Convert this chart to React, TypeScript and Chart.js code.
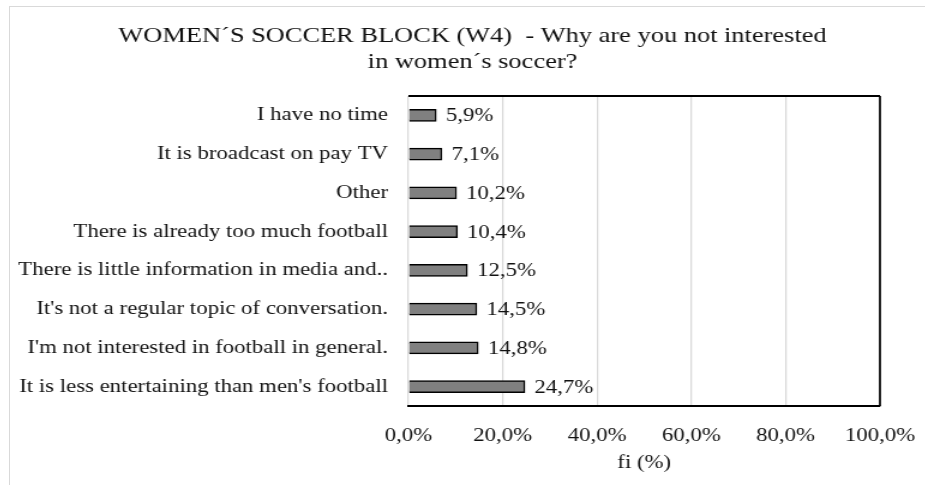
import React, { useEffect, useRef } from "react";
import { Chart, registerables } from "chart.js";

Chart.register(...registerables);

const titleLines = [
  "WOMEN´S SOCCER BLOCK (W4)  - Why are you not interested",
  "in women´s soccer?",
];
const categories = [
  "I have no time",
  "It is broadcast on pay TV",
  "Other",
  "There is already too much football",
  "There is little information in media and..",
  "It's not a regular topic of conversation.",
  "I'm not interested in football in general.",
  "It is less entertaining than men's football",
];
const values = [5.9, 7.1, 10.2, 10.4, 12.5, 14.5, 14.8, 24.7];
const xTickValues = [0, 20, 40, 60, 80, 100];
const xAxisTitle = "fi (%)";

const FONT = "'Liberation Serif', 'Times New Roman', serif";
const fmt = (v: number) => v.toFixed(1).replace(".", ",") + "%";

const W = 762;
const H = 478;
const SX = 1.2;

export default function App() {
  const ref = useRef<HTMLCanvasElement | null>(null);

  useEffect(() => {
    if (!ref.current) return;

    const frameAndLabels = {
      id: "frameAndLabels",
      afterDatasetsDraw(chart: any) {
        const { ctx, chartArea } = chart;
        ctx.save();
        ctx.strokeStyle = "#000";
        ctx.lineWidth = 2;
        ctx.beginPath();
        ctx.moveTo(chartArea.left, chartArea.top);
        ctx.lineTo(chartArea.right, chartArea.top);
        ctx.stroke();
        ctx.lineWidth = 1.7;
        ctx.beginPath();
        ctx.moveTo(chartArea.right, chartArea.top);
        ctx.lineTo(chartArea.right, chartArea.bottom);
        ctx.stroke();
        const meta = chart.getDatasetMeta(0);
        ctx.fillStyle = "#111";
        ctx.font = `19px ${FONT}`;
        ctx.textAlign = "left";
        ctx.textBaseline = "middle";
        meta.data.forEach((bar: any, i: number) => {
          ctx.fillText(fmt(values[i]), bar.x + 8, bar.y + 1);
        });
        ctx.restore();
      },
      afterDraw(chart: any) {
        const { ctx } = chart;
        ctx.save();
        ctx.fillStyle = "#111";
        ctx.font = `22px ${FONT}`;
        ctx.textAlign = "center";
        ctx.textBaseline = "alphabetic";
        const cx = 385.4;
        ctx.fillText(titleLines[0], cx, 34.7);
        ctx.fillText(titleLines[1], cx, 60.7);
        ctx.restore();
      },
    };

    const chart = new Chart(ref.current, {
      type: "bar",
      data: {
        labels: categories,
        datasets: [
          {
            data: values,
            backgroundColor: "#808080",
            borderColor: "#000",
            borderWidth: 1.5,
            barThickness: 12,
          },
        ],
      },
      options: {
        indexAxis: "y",
        responsive: false,
        maintainAspectRatio: false,
        animation: false,
        devicePixelRatio: 1,
        layout: { padding: { top: 89, left: 0, right: 37, bottom: 11 } },
        plugins: {
          legend: { display: false },
          title: { display: false },
          tooltip: { enabled: false },
        },
        scales: {
          x: {
            min: 0,
            max: 100,
            afterBuildTicks: (scale: any) => {
              scale.ticks = xTickValues.map((v) => ({ value: v }));
            },
            afterFit: (scale: any) => {
              scale.height = 68;
              scale.paddingLeft = 0;
              scale.paddingRight = 0;
            },
            ticks: {
              callback: (v: any) => fmt(Number(v)),
              font: { family: FONT, size: 19 },
              color: "#111",
              padding: 19,
              maxRotation: 0,
            },
            grid: { color: "#d9d9d9", lineWidth: 1.25, drawTicks: false },
            border: { display: true, color: "#000", width: 2 },
            title: {
              display: true,
              text: xAxisTitle,
              font: { family: FONT, size: 19 },
              color: "#111",
              padding: { top: 8, bottom: 0 },
            },
          },
          y: {
            afterFit: (scale: any) => {
              scale.width = 332;
            },
            ticks: {
              font: { family: FONT, size: 19 },
              color: "#111",
              padding: 17,
            },
            grid: { display: false, drawTicks: false },
            border: { display: false },
          },
        },
      },
      plugins: [frameAndLabels],
    });
    return () => chart.destroy();
  }, []);

  return (
    <div
      style={{
        position: "fixed",
        left: 9,
        top: 6,
        width: 916,
        height: 479,
        borderLeft: "1px solid #d9d9d9",
        borderTop: "1px solid #d9d9d9",
        overflow: "hidden",
        background: "#fff",
      }}
    >
      <div
        style={{
          width: W,
          height: H,
          transform: `scaleX(${SX})`,
          transformOrigin: "0 0",
        }}
      >
        <canvas ref={ref} width={W} height={H} style={{ display: "block" }} />
      </div>
    </div>
  );
}
